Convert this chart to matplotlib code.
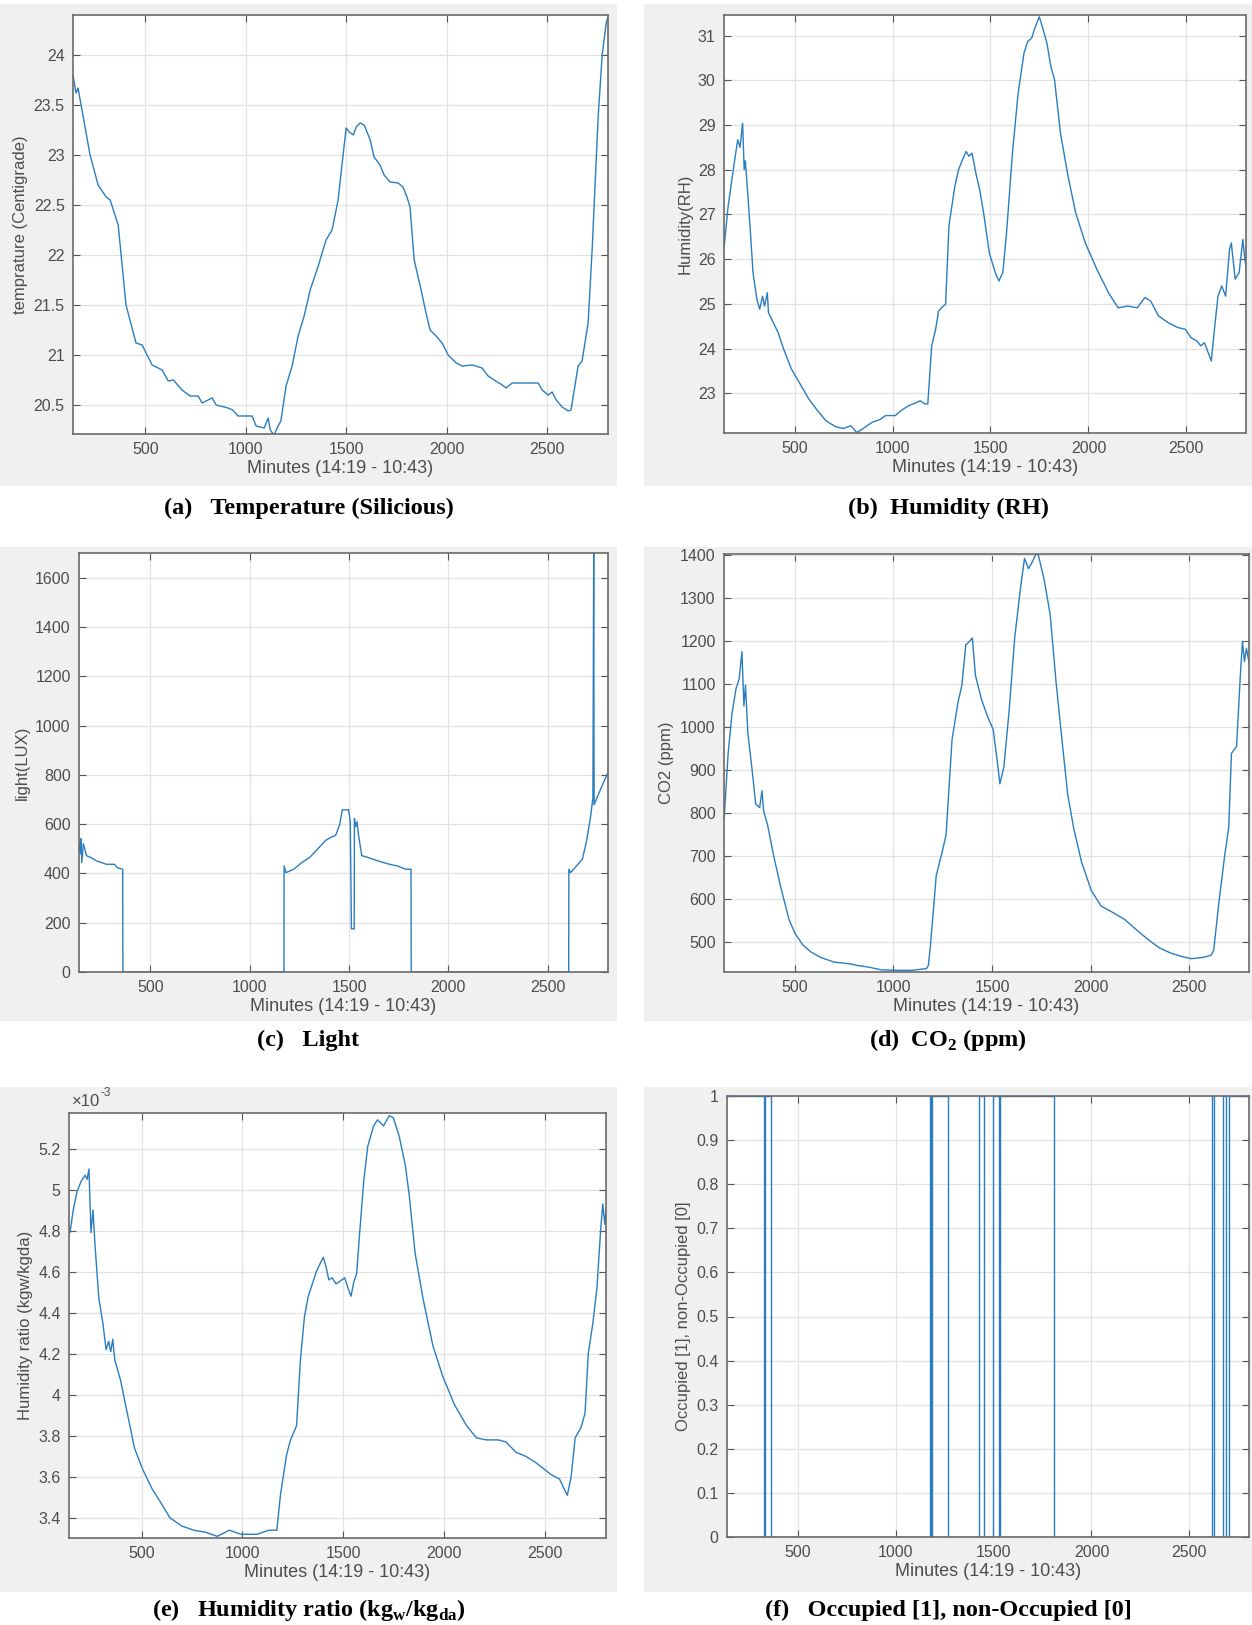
import numpy as np
import matplotlib.pyplot as plt
from matplotlib.patches import Rectangle
from matplotlib.ticker import FuncFormatter
from matplotlib.transforms import offset_copy

plt.rcParams['font.family'] = ['Liberation Sans', 'DejaVu Sans']
plt.rcParams['mathtext.fontset'] = 'custom'
plt.rcParams['mathtext.rm'] = 'Liberation Serif:bold'
plt.rcParams['mathtext.bf'] = 'Liberation Serif:bold'

# ---- data (minutes, value) ----
temp_x = [140, 155, 165, 225, 265, 305, 325, 365, 404, 454, 484, 534, 584, 614, 640, 683, 723, 763,
          783, 833, 853, 912, 935, 962, 1032, 1052, 1092, 1112, 1122, 1141, 1161, 1175, 1201, 1231,
          1261, 1291, 1321, 1361, 1400, 1430, 1460, 1500, 1516, 1536, 1550, 1570, 1590, 1620, 1639,
          1669, 1689, 1719, 1759, 1783, 1803, 1818, 1839, 1869, 1898, 1918, 1948, 1978, 2008, 2048,
          2078, 2128, 2177, 2207, 2237, 2277, 2297, 2327, 2456, 2476, 2506, 2526, 2546, 2576, 2606,
          2620, 2655, 2675, 2705, 2725, 2755, 2775, 2795, 2804]
temp_y = [23.80, 23.62, 23.67, 23.00, 22.70, 22.58, 22.55, 22.30, 21.50, 21.12, 21.10, 20.90, 20.85,
          20.74, 20.75, 20.65, 20.59, 20.59, 20.52, 20.57, 20.50, 20.47, 20.45, 20.39, 20.39, 20.29,
          20.27, 20.37, 20.25, 20.20, 20.29, 20.34, 20.69, 20.89, 21.19, 21.39, 21.65, 21.89, 22.15,
          22.25, 22.55, 23.27, 23.23, 23.20, 23.28, 23.32, 23.30, 23.15, 22.98, 22.90, 22.80, 22.73,
          22.72, 22.68, 22.58, 22.48, 21.95, 21.69, 21.42, 21.25, 21.19, 21.12, 21.00, 20.92, 20.89,
          20.90, 20.87, 20.79, 20.75, 20.70, 20.67, 20.72, 20.72, 20.65, 20.60, 20.63, 20.55, 20.48,
          20.44, 20.45, 20.89, 20.94, 21.32, 22.05, 23.38, 24.00, 24.32, 24.38]

hum_x = [141, 161, 190, 210, 222, 235, 243, 249, 259, 275, 288, 308, 322, 337, 347, 361, 367, 416,
         445, 484, 524, 573, 612, 661, 710, 749, 788, 818, 847, 896, 935, 965, 1014, 1043, 1082, 1122,
         1141, 1165, 1180, 1200, 1220, 1235, 1259, 1271, 1288, 1318, 1337, 1357, 1376, 1390, 1406,
         1425, 1445, 1465, 1494, 1524, 1543, 1563, 1582, 1612, 1641, 1671, 1690, 1710, 1729, 1749,
         1769, 1788, 1808, 1827, 1857, 1896, 1935, 1984, 2043, 2102, 2151, 2200, 2249, 2288, 2318,
         2357, 2406, 2455, 2494, 2524, 2553, 2573, 2592, 2612, 2627, 2641, 2661, 2680, 2700, 2720,
         2729, 2749, 2769, 2788, 2798, 2804]
hum_y = [26.29, 27.18, 28.08, 28.67, 28.50, 29.04, 28.00, 28.20, 27.60, 26.59, 25.70, 25.10, 24.88,
         25.17, 24.95, 25.25, 24.80, 24.36, 23.98, 23.54, 23.24, 22.87, 22.64, 22.38, 22.25, 22.21,
         22.27, 22.12, 22.20, 22.35, 22.41, 22.50, 22.50, 22.61, 22.72, 22.79, 22.83, 22.76, 22.76,
         24.06, 24.43, 24.84, 24.95, 24.99, 26.74, 27.63, 28.00, 28.22, 28.41, 28.30, 28.37, 27.93,
         27.55, 27.03, 26.14, 25.70, 25.51, 25.70, 26.59, 28.37, 29.71, 30.61, 30.87, 30.94, 31.20,
         31.42, 31.13, 30.83, 30.31, 30.01, 28.82, 27.85, 27.03, 26.36, 25.77, 25.25, 24.91, 24.95,
         24.91, 25.14, 25.06, 24.73, 24.58, 24.47, 24.43, 24.24, 24.17, 24.06, 24.13, 23.90, 23.72,
         24.35, 25.17, 25.40, 25.17, 26.22, 26.36, 25.55, 25.70, 26.44, 26.00, 25.84]

light_x = [140, 146, 150, 154, 162, 178, 198, 228, 278, 318, 334, 360, 361, 1172, 1173, 1182, 1222,
           1262, 1302, 1342, 1382, 1412, 1432, 1452, 1466, 1498, 1506, 1512, 1526, 1527, 1532, 1540,
           1548, 1564, 1594, 1644, 1704, 1744, 1784, 1812, 1813, 2606, 2607, 2615, 2645, 2675, 2695,
           2715, 2728, 2732, 2734, 2740, 2770, 2800]
light_y = [527, 480, 541, 444, 520, 472, 465, 451, 437, 437, 423, 417, 0, 0, 430, 403, 417, 444, 465,
           499, 534, 548, 554, 596, 658, 658, 610, 175, 175, 623, 589, 610, 554, 472, 465, 451, 437,
           430, 417, 417, 0, 0, 417, 403, 430, 458, 527, 623, 706, 1700, 679, 690, 748, 803]

co2_x = [141, 161, 181, 201, 217, 231, 241, 249, 261, 281, 301, 321, 333, 341, 361, 391, 430, 470,
         500, 540, 580, 629, 699, 779, 819, 878, 938, 1018, 1098, 1167, 1177, 1187, 1217, 1247, 1267,
         1297, 1327, 1347, 1367, 1386, 1400, 1416, 1446, 1476, 1506, 1526, 1540, 1560, 1586, 1615,
         1645, 1665, 1685, 1705, 1725, 1735, 1765, 1795, 1825, 1855, 1884, 1914, 1954, 2004, 2054,
         2114, 2173, 2233, 2293, 2353, 2412, 2472, 2512, 2572, 2612, 2625, 2651, 2681, 2701, 2715,
         2741, 2761, 2771, 2781, 2791, 2804]
co2_y = [789, 939, 1033, 1089, 1112, 1175, 1049, 1097, 986, 907, 821, 813, 852, 805, 773, 703, 624,
         553, 521, 494, 478, 465, 454, 450, 446, 442, 436, 435, 435, 439, 446, 490, 655, 710, 750, 970,
         1057, 1097, 1191, 1199, 1207, 1120, 1065, 1026, 994, 923, 868, 907, 1033, 1207, 1325, 1392,
         1368, 1384, 1404, 1400, 1341, 1262, 1104, 970, 844, 766, 687, 620, 584, 569, 553, 529, 506,
         486, 474, 466, 462, 465, 470, 482, 592, 703, 766, 939, 955, 1128, 1199, 1152, 1183, 1150]

# humidity ratio in units of 1e-3 kg_w/kg_da
hr_x = [145, 161, 180, 200, 220, 230, 239, 249, 259, 269, 288, 308, 324, 337, 347, 357, 367, 396,
        425, 465, 504, 553, 592, 641, 700, 759, 818, 876, 935, 994, 1073, 1131, 1151, 1171, 1190,
        1220, 1239, 1269, 1288, 1308, 1327, 1347, 1367, 1386, 1402, 1416, 1429, 1445, 1465, 1494,
        1508, 1524, 1539, 1553, 1567, 1582, 1602, 1622, 1651, 1671, 1700, 1729, 1749, 1778, 1808,
        1827, 1857, 1896, 1945, 1994, 2053, 2112, 2161, 2210, 2269, 2308, 2357, 2406, 2455, 2494,
        2533, 2573, 2592, 2612, 2631, 2651, 2680, 2700, 2716, 2739, 2759, 2778, 2788, 2798, 2804]
hr_y = [4.79, 4.90, 4.99, 5.04, 5.07, 5.05, 5.10, 4.79, 4.90, 4.73, 4.47, 4.35, 4.22, 4.26, 4.21,
        4.27, 4.17, 4.07, 3.93, 3.74, 3.64, 3.54, 3.48, 3.40, 3.36, 3.34, 3.33, 3.31, 3.34, 3.32, 3.32,
        3.34, 3.34, 3.34, 3.52, 3.71, 3.78, 3.85, 4.17, 4.38, 4.48, 4.54, 4.60, 4.64, 4.67, 4.62, 4.56,
        4.57, 4.54, 4.56, 4.57, 4.52, 4.48, 4.55, 4.59, 4.79, 5.04, 5.21, 5.31, 5.34, 5.31, 5.36, 5.35,
        5.26, 5.12, 4.98, 4.69, 4.47, 4.24, 4.09, 3.95, 3.85, 3.79, 3.78, 3.78, 3.77, 3.72, 3.70, 3.67,
        3.64, 3.61, 3.59, 3.55, 3.51, 3.60, 3.79, 3.84, 3.91, 4.20, 4.35, 4.52, 4.81, 4.93, 4.83, 4.90]

# occupancy: minute at which the state changes, and state from then on
occ_x = [140, 329, 333, 367, 1176, 1182, 1186, 1269, 1425, 1453, 1500, 1529, 1535, 1810, 2614, 2627,
         2673, 2686, 2702, 2731, 2804]
occ_s = [1, 0, 1, 0, 1, 0, 1, 0, 1, 0, 1, 0, 1, 0, 1, 0, 1, 0, 1, 1, 1]

x_ticks = [500, 1000, 1500, 2000, 2500]
x_label = 'Minutes (14:19 - 10:43)'

W, H = 1252, 1625
fig = plt.figure(figsize=(W / 100, H / 100), dpi=100)


def fbox(l, t, r, b):
    return [l / W, 1 - b / H, (r - l) / W, (b - t) / H]


fmt = FuncFormatter(lambda v, p: '%g' % round(v, 6))

# gray box, axes box, caption y, ylabel, ylim, yticks
panels = [
    ((0, 4, 617, 486), (73, 15, 608, 434), 508, 'temprature (Centigrade)',
     (20.21, 24.40), [20.5, 21, 21.5, 22, 22.5, 23, 23.5, 24]),
    ((644, 4, 1252, 486), (724, 15, 1246, 433), 508, 'Humidity(RH)',
     (22.11, 31.46), [23, 24, 25, 26, 27, 28, 29, 30, 31]),
    ((0, 547, 617, 1021), (79, 553, 608, 972), 1040, 'light(LUX)',
     (0, 1700), [0, 200, 400, 600, 800, 1000, 1200, 1400, 1600]),
    ((644, 547, 1252, 1021), (724, 554, 1249, 972), 1040, 'CO2 (ppm)',
     (431, 1402), [500, 600, 700, 800, 900, 1000, 1100, 1200, 1300, 1400]),
    ((0, 1087, 617, 1592), (69, 1113, 606, 1538), 1610, 'Humidity ratio (kgw/kgda)',
     (3.302, 5.373), [3.4, 3.6, 3.8, 4, 4.2, 4.4, 4.6, 4.8, 5, 5.2]),
    ((644, 1087, 1252, 1592), (727, 1096, 1249, 1537), 1610, 'Occupied [1], non-Occupied [0]',
     (0, 1), [0, 0.1, 0.2, 0.3, 0.4, 0.5, 0.6, 0.7, 0.8, 0.9, 1]),
]
series = [(temp_x, temp_y), (hum_x, hum_y), (light_x, light_y), (co2_x, co2_y), (hr_x, hr_y), None]
captions = [
    '(a)   Temperature (Silicious)',
    '(b)  Humidity (RH)',
    '(c)   Light',
    r'(d)  CO$_\mathrm{2}$ (ppm)',
    r'(e)   Humidity ratio (kg$_\mathrm{w}$/kg$_\mathrm{da}$)',
    '(f)   Occupied [1], non-Occupied [0]',
]

line_c = '#2a7dc0'
txt_c = '#4d4d4d'

for i, (gb, ab, cy, ylab, ylim, yt) in enumerate(panels):
    g = fbox(*gb)
    fig.add_artist(Rectangle((g[0], g[1]), g[2], g[3], transform=fig.transFigure,
                             facecolor='#f0f0f0', edgecolor='none', zorder=0))
    ax = fig.add_axes(fbox(*ab))
    ax.set_facecolor('white')
    if series[i] is not None:
        ax.plot(series[i][0], series[i][1], color=line_c, lw=1.0)
    else:
        ax.step(occ_x, occ_s, where='post', color=line_c, lw=1.0)
    ax.set_xlim(140, 2804)
    ax.set_ylim(*ylim)
    ax.set_xticks(x_ticks)
    ax.set_yticks(yt)
    ax.yaxis.set_major_formatter(fmt)
    ax.grid(True, color='#e2e2e2', lw=0.9)
    ax.set_axisbelow(True)
    ax.tick_params(direction='in', length=5, width=0.8, color='#555555', labelcolor=txt_c,
                   labelsize=11.5, top=True, right=True, pad=6)
    for s in ax.spines.values():
        s.set_color('#6a6a6a')
        s.set_linewidth(1.2)
    ax.set_xlabel(x_label, fontsize=13, color=txt_c, labelpad=2)
    ax.set_ylabel(ylab, fontsize=12, color=txt_c, labelpad=4)
    cx = (gb[0] + gb[2]) / 2 / W
    fig.text(cx, 1 - cy / H, captions[i], family='Liberation Serif', weight='bold',
             fontsize=17.5, ha='center', va='center', color='black')
    if i == 4:
        base = offset_copy(ax.transAxes, fig=fig, x=2, y=3, units='points')
        ax.text(0.0, 1.0, '×10', transform=base, fontsize=12, color=txt_c,
                ha='left', va='bottom')
        sup = offset_copy(ax.transAxes, fig=fig, x=23, y=10, units='points')
        ax.text(0.0, 1.0, '-3', transform=sup, fontsize=8.5, color=txt_c,
                ha='left', va='bottom')

fig.savefig('out.png', dpi=100, facecolor='white')
